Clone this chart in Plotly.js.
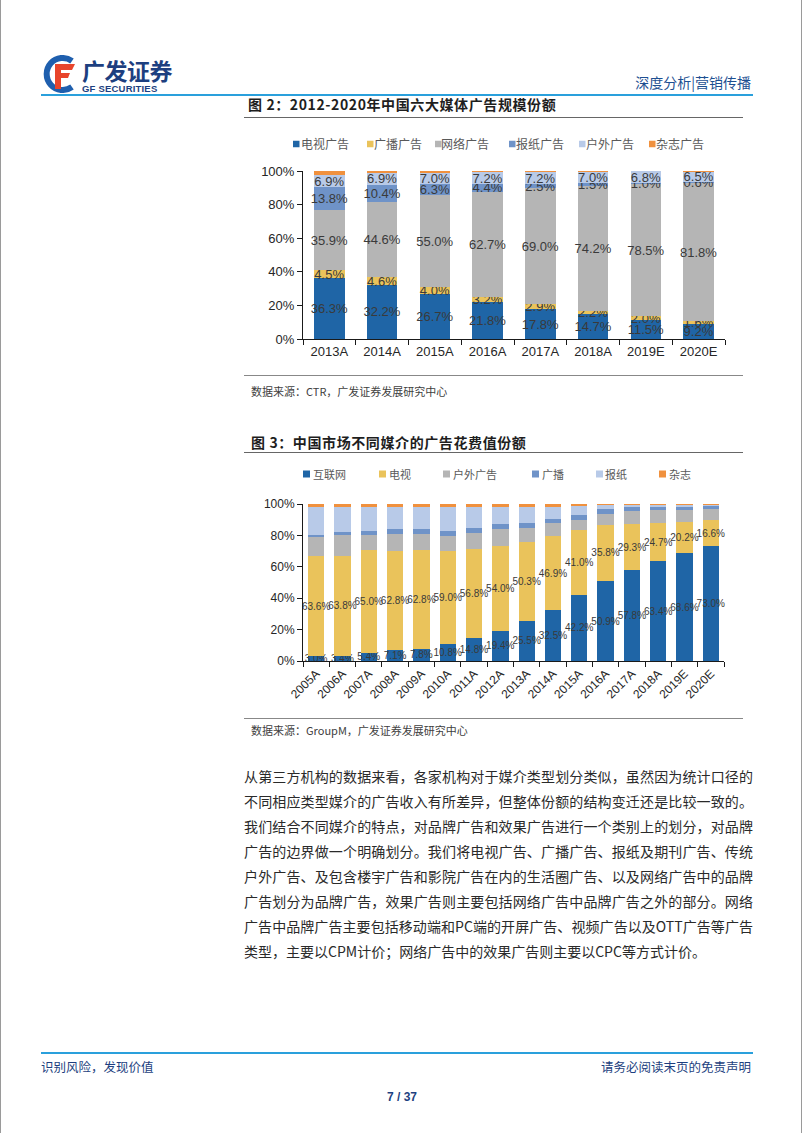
<!DOCTYPE html>
<html><head><meta charset="utf-8">
<script src="https://cdn.plot.ly/plotly-3.0.1.min.js"></script>
<style>
html,body{margin:0;padding:0;background:#fff;}
#page{position:relative;width:802px;height:1133px;overflow:hidden;background:#fff;
  font-family:"Noto Sans CJK SC","Liberation Sans",sans-serif;border-left:1px solid #9a9a9a;border-right:1px solid #9a9a9a;box-sizing:border-box;}
.abs{position:absolute;white-space:nowrap;}
.hline{position:absolute;height:0;}
.figtitle{font-size:14px;font-weight:bold;color:#1e1e1e;line-height:20px;letter-spacing:0.6px;}
.src{font-size:11px;color:#404040;line-height:16px;}
.body{position:absolute;left:243px;width:509px;font-size:14px;color:#2a2a2a;line-height:20px;
  text-align:justify;text-align-last:justify;white-space:nowrap;}
.body.last{text-align-last:left;}
#chart1{position:absolute;left:230px;top:125px;width:520px;height:245px;}
#chart2{position:absolute;left:230px;top:455px;width:510px;height:255px;}
</style></head><body>
<div id="page">
  <!-- header -->
  <svg class="abs" style="left:40px;top:55px" width="38" height="38" viewBox="0 0 38 38">
    <path d="M31 6 A16 16 0 1 0 31 32" fill="none" stroke="#1f5fae" stroke-width="6"/>
    <path d="M14 9 H34 L31 15 H20 V18 H29 L27 23 H20 V34 H14 Z" fill="#e8452c"/>
  </svg>
  <div class="abs" style="left:81px;top:55px;font-size:23px;font-weight:bold;color:#1d3f80;line-height:30px;letter-spacing:-0.5px;">广发证券</div>
  <div class="abs" style="left:81px;top:83px;font-size:9.5px;font-weight:bold;color:#1d3f80;line-height:11px;font-family:'Liberation Sans',sans-serif;letter-spacing:0.2px;">GF SECURITIES</div>
  <div class="abs" style="right:50px;top:72px;font-size:14px;color:#1d4f91;line-height:20px;">深度分析|营销传播</div>
  <div class="hline" style="left:40px;width:712px;top:94px;border-top:2px solid #2aa0dc;"></div>

  <!-- figure 2 -->
  <div class="abs figtitle" style="left:247px;top:94px;">图 2：2012-2020年中国六大媒体广告规模份额</div>
  <div class="hline" style="left:243px;width:499px;top:117px;border-top:1.5px solid #666;"></div>
  <div id="chart1"></div>
  <div class="hline" style="left:243px;width:499px;top:375px;border-top:1.5px solid #888;"></div>
  <div class="abs src" style="left:250px;top:383px;">数据来源：CTR，广发证券发展研究中心</div>

  <!-- figure 3 -->
  <div class="abs figtitle" style="left:250px;top:432px;">图 3：中国市场不同媒介的广告花费值份额</div>
  <div class="hline" style="left:243px;width:499px;top:452px;border-top:1.5px solid #666;"></div>
  <div id="chart2"></div>
  <div class="hline" style="left:243px;width:499px;top:718px;border-top:1.5px solid #888;"></div>
  <div class="abs src" style="left:250px;top:722px;">数据来源：GroupM，广发证券发展研究中心</div>

  <!-- body text -->
  <div class="body" style="top:766px;">从第三方机构的数据来看，各家机构对于媒介类型划分类似，虽然因为统计口径的</div>
  <div class="body" style="top:791px;">不同相应类型媒介的广告收入有所差异，但整体份额的结构变迁还是比较一致的。</div>
  <div class="body" style="top:816px;">我们结合不同媒介的特点，对品牌广告和效果广告进行一个类别上的划分，对品牌</div>
  <div class="body" style="top:841px;">广告的边界做一个明确划分。我们将电视广告、广播广告、报纸及期刊广告、传统</div>
  <div class="body" style="top:866px;">户外广告、及包含楼宇广告和影院广告在内的生活圈广告、以及网络广告中的品牌</div>
  <div class="body" style="top:891px;">广告划分为品牌广告，效果广告则主要包括网络广告中品牌广告之外的部分。网络</div>
  <div class="body" style="top:916px;">广告中品牌广告主要包括移动端和PC端的开屏广告、视频广告以及OTT广告等广告</div>
  <div class="body last" style="top:941px;">类型，主要以CPM计价；网络广告中的效果广告则主要以CPC等方式计价。</div>

  <!-- footer -->
  <div class="hline" style="left:40px;width:712px;top:1052px;border-top:2px solid #2aa0dc;"></div>
  <div class="abs" style="left:40px;top:1058px;font-size:12.5px;color:#1d3f80;line-height:18px;">识别风险，发现价值</div>
  <div class="abs" style="right:50px;top:1058px;font-size:12.5px;color:#1d3f80;line-height:18px;">请务必阅读末页的免责声明</div>
  <div class="abs" style="left:0;width:802px;text-align:center;top:1089px;font-size:12px;font-weight:bold;color:#1d3f80;line-height:16px;font-family:'Liberation Sans',sans-serif;">7 / 37</div>
</div>

<script>
// ---------- data: figure 2 (CTR) ----------
const years1 = ['2013A','2014A','2015A','2016A','2017A','2018A','2019E','2020E'];
const names1 = ['电视广告','广播广告','网络广告','报纸广告','户外广告','杂志广告'];
const tv1        = [36.3, 32.2, 26.7, 21.8, 17.8, 14.7, 11.5, 9.2];
const radio1     = [4.5, 4.6, 4.0, 3.2, 2.9, 2.2, 2.0, 1.6];
const internet1  = [35.9, 44.6, 55.0, 62.7, 69.0, 74.2, 78.5, 81.8];
const newspaper1 = [13.8, 10.4, 6.3, 4.4, 2.5, 1.5, 1.0, 0.6];
const outdoor1   = [6.9, 6.9, 7.0, 7.2, 7.2, 7.0, 6.8, 6.5];
const magazine1  = [2.6, 1.3, 1.0, 0.7, 0.6, 0.4, 0.2, 0.3];
const labeled1   = [true, true, true, true, true, false];

// ---------- data: figure 3 (GroupM) ----------
const years2 = ['2005A','2006A','2007A','2008A','2009A','2010A','2011A','2012A','2013A','2014A','2015A','2016A','2017A','2018A','2019E','2020E'];
const names2 = ['互联网','电视','户外广告','广播','报纸','杂志'];
const internet2  = [3.0, 3.4, 5.4, 7.1, 7.8, 10.8, 14.8, 19.4, 25.5, 32.5, 42.2, 50.9, 57.8, 63.4, 68.6, 73.0];
const tv2        = [63.6, 63.8, 65.0, 62.8, 62.8, 59.0, 56.8, 54.0, 50.3, 46.9, 41.0, 35.8, 29.3, 24.7, 20.2, 16.6];
const outdoor2   = [12.4, 12.9, 9.7, 11.0, 10.2, 10.0, 10.0, 10.4, 8.9, 8.3, 6.6, 6.9, 8.2, 8.1, 7.6, 7.4];
const radio2     = [1.5, 2.1, 2.4, 3.0, 3.0, 3.3, 3.0, 3.2, 3.0, 2.5, 3.2, 3.0, 2.6, 2.1, 1.9, 1.6];
const newspaper2 = [17.8, 16.1, 15.8, 14.4, 14.5, 15.2, 13.7, 11.3, 10.6, 8.1, 6.0, 2.6, 1.5, 1.2, 1.2, 1.0];
const magazine2  = [1.7, 1.7, 1.7, 1.7, 1.7, 1.7, 1.7, 1.7, 1.7, 1.7, 1.0, 0.8, 0.6, 0.5, 0.5, 0.4];
const labeled2   = [true, true, false, false, false, false];

// ---------- axis ticks ----------
const yTickVals = [0, 20, 40, 60, 80, 100];
const yTickText = ['0%', '20%', '40%', '60%', '80%', '100%'];

// ---------- styles ----------
const colors = ['#1F65A6', '#EAC35B', '#B5B5B5', '#6F93C8', '#B8CAE8', '#F0913E'];
const NUM = '"Liberation Sans", Arial, sans-serif';
const CJK = '"Noto Sans CJK SC", sans-serif';

function makeTraces(x, series, names, labeled, fs) {
  return series.map((s, i) => ({
    type: 'bar', x: x, y: s, name: names[i],
    marker: {color: colors[i], line: {width: 0}},
    text: s.map(v => v.toFixed(1) + '%'),
    texttemplate: labeled[i] ? '%{text}' : '',
    textposition: labeled[i] ? 'inside' : 'none',
    insidetextanchor: 'middle', textangle: 0, constraintext: 'none',
    textfont: {family: NUM, size: fs, color: '#3a3a3a'},
    hoverinfo: 'skip', showlegend: false, cliponaxis: false
  }));
}

// legend built from names/colors; rect = plot area in page pixels
function legendParts(names, sqLeft, txtLeft, yPage, rect, fs, sq) {
  const W = rect.x1 - rect.x0, H = rect.y1 - rect.y0;
  const px = p => (p - rect.x0) / W;
  const py = p => (rect.y1 - p) / H;
  const shapes = [], annotations = [];
  names.forEach((n, i) => {
    shapes.push({type: 'rect', xref: 'paper', yref: 'paper',
      x0: px(sqLeft[i]), x1: px(sqLeft[i] + sq), y0: py(yPage + sq / 2), y1: py(yPage - sq / 2),
      fillcolor: colors[i], line: {width: 0}});
    annotations.push({xref: 'paper', yref: 'paper', x: px(txtLeft[i]), y: py(yPage),
      xanchor: 'left', yanchor: 'middle', showarrow: false, text: n, borderpad: 0,
      font: {family: CJK, size: fs, color: '#595959'}});
  });
  return {shapes, annotations};
}

function axisCommon(fs) {
  return {showline: true, linecolor: '#1a1a1a', linewidth: 1, ticks: 'outside', ticklen: 5,
    tickcolor: '#1a1a1a', tickwidth: 1, showgrid: false, zeroline: false, fixedrange: true,
    tickfont: {family: NUM, size: fs, color: '#262626'}};
}

// ---------- chart 1 ----------
const rect1 = {x0: 302, x1: 724, y0: 171, y1: 339};
const leg1 = legendParts(names1, [292, 366, 434, 508, 578, 648], [299, 372, 439, 514, 584, 654], 144, rect1, 12, 6.5);
Plotly.newPlot('chart1',
  makeTraces(years1, [tv1, radio1, internet1, newspaper1, outdoor1, magazine1], names1, labeled1, 13),
  {
    width: 520, height: 245, margin: {l: 72, r: 26, t: 46, b: 31, pad: 0},
    paper_bgcolor: 'rgba(0,0,0,0)', plot_bgcolor: 'rgba(0,0,0,0)',
    barmode: 'stack', bargap: 0.42, showlegend: false,
    uniformtext: {mode: 'show', minsize: 13},
    xaxis: Object.assign(axisCommon(13), {type: 'category', tickson: 'boundaries'}),
    yaxis: Object.assign(axisCommon(13), {range: [0, 100], tickvals: yTickVals, ticktext: yTickText}),
    shapes: leg1.shapes, annotations: leg1.annotations
  }, {staticPlot: true, displayModeBar: false});

// ---------- chart 2 ----------
const rect2 = {x0: 302, x1: 723, y0: 504, y1: 661};
const leg2 = legendParts(names2, [302, 378, 442, 531, 595, 658], [311, 387, 451, 540, 603, 667], 474, rect2, 11, 7);
Plotly.newPlot('chart2',
  makeTraces(years2, [internet2, tv2, outdoor2, radio2, newspaper2, magazine2], names2, labeled2, 10),
  {
    width: 510, height: 255, margin: {l: 72, r: 17, t: 49, b: 49, pad: 0},
    paper_bgcolor: 'rgba(0,0,0,0)', plot_bgcolor: 'rgba(0,0,0,0)',
    barmode: 'stack', bargap: 0.38, showlegend: false,
    uniformtext: {mode: 'show', minsize: 10},
    xaxis: Object.assign(axisCommon(12), {type: 'category', tickson: 'boundaries', tickangle: -45}),
    yaxis: Object.assign(axisCommon(12), {range: [0, 100], tickvals: yTickVals, ticktext: yTickText}),
    shapes: leg2.shapes, annotations: leg2.annotations
  }, {staticPlot: true, displayModeBar: false});
</script>
</body></html>
